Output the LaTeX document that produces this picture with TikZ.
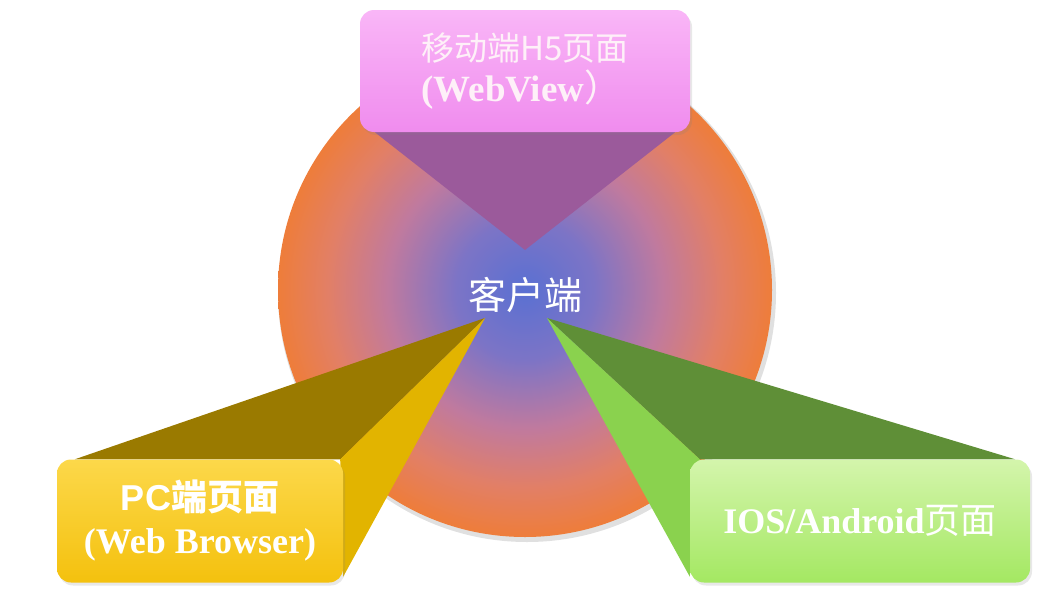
\documentclass[tikz,border=0pt]{standalone}
\usepackage{fontspec}
\setmainfont{Liberation Serif}
\newfontfamily\cjk{Noto Sans CJK SC}
\newfontfamily\pcsans{Liberation Sans}
\usetikzlibrary{positioning}
\usetikzlibrary{backgrounds, shadows}

\definecolor{hubblue}{HTML}{5A70D2}
\definecolor{hubviolet}{HTML}{7C74C6}
\definecolor{hubpink}{HTML}{C07A9E}
\definecolor{hubsalmon}{HTML}{E27F66}
\definecolor{huborange}{HTML}{EE7D3A}
\definecolor{mauve}{HTML}{9B5A9B}
\definecolor{olive}{HTML}{9A7A00}
\definecolor{gold}{HTML}{E2B400}
\definecolor{moss}{HTML}{5F8F37}
\definecolor{lime}{HTML}{8AD24E}
\definecolor{pinktop}{HTML}{F9B6F7}
\definecolor{pinkbot}{HTML}{F08CEE}
\definecolor{yelltop}{HTML}{FCD84A}
\definecolor{yellbot}{HTML}{F4C10E}
\definecolor{greentop}{HTML}{D4F5AC}
\definecolor{greenbot}{HTML}{A4E862}
\pgfdeclareradialshading{hubshade}{\pgfpoint{0bp}{0bp}}{color(0bp)=(hubblue); color(7bp)=(hubviolet); color(14bp)=(hubpink); color(20bp)=(hubsalmon); color(25bp)=(huborange); color(50bp)=(huborange)}

\tikzset{
  page/.style={rectangle, rounded corners=14pt, align=center, text=white,
    drop shadow={opacity=0.18, shadow xshift=2pt, shadow yshift=-3pt}},
  big/.style={font=\fontsize{36}{43}\selectfont\bfseries},
}

\begin{document}
\begin{tikzpicture}[x=1pt, y=-1pt]
  \useasboundingbox (0,0) rectangle (1050,597);

  \node (client) at (525,295) [text=white, font=\cjk\fontsize{38}{44}\selectfont]{客户端};

  \node (mobile) at (525,71) [page, align=left, minimum width=330pt, minimum height=122pt,
    top color=pinktop, bottom color=pinkbot, text=white!94!magenta,
    font=\fontsize{33}{41}\selectfont]{{\cjk 移动端H5页面}\\{\fontsize{37}{41}\selectfont\textbf{(WebView}{\cjk ）}}};
  \node (pc) at (200,521) [page, big, minimum width=286pt, minimum height=123pt,
    top color=yelltop, bottom color=yellbot]{{\pcsans PC}{\cjk 端页面}\\(Web Browser)};
  \node (app) at (860,521) [page, big, minimum width=340pt, minimum height=123pt,
    top color=greentop, bottom color=greenbot]{IOS/Android{\cjk\mdseries 页面}};

  \coordinate (tipTop) at (525,250);
  \coordinate (tipPc) at (485,318);
  \coordinate (tipApp) at (547,318);

  \begin{scope}[on background layer]
    \fill[black!12] (527,293) circle (249);
    \shade[shading=hubshade] (525,290) circle (247);
    % pyramids
    \fill[mauve] ([xshift=15pt]mobile.south west) -- (tipTop) -- ([xshift=-15pt]mobile.south east) -- cycle;
    \fill[olive] ([xshift=18pt]pc.north west) -- (tipPc) -- ([xshift=-3pt]pc.north east) -- cycle;
    \fill[gold] (tipPc) -- ([xshift=-3pt]pc.north east) -- ([yshift=6pt]pc.south east) -- cycle;
    \fill[moss] ([xshift=10pt]app.north west) -- (tipApp) -- ([xshift=-15pt]app.north east) -- cycle;
    \fill[lime] (tipApp) -- ([xshift=10pt]app.north west) -- ([yshift=6pt]app.south west) -- cycle;
  \end{scope}
\end{tikzpicture}
\end{document}
